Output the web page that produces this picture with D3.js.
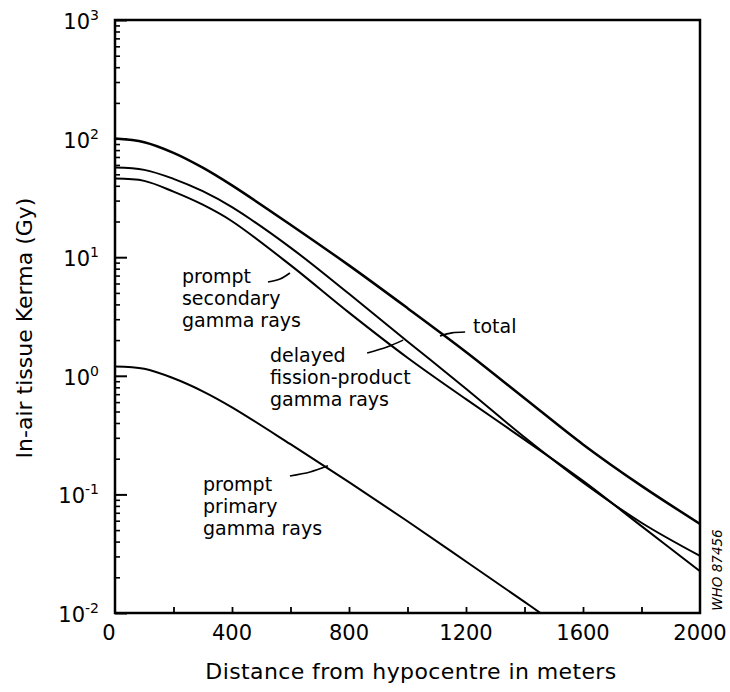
<!DOCTYPE html>
<html>
<head>
<meta charset="utf-8">
<script src="https://cdn.jsdelivr.net/npm/d3@7"></script>
<style>
    body { margin: 0; background: #fff; }
    svg { font-family: "DejaVu Sans", sans-serif; }
</style>
</head>
<body>
<div id="chart"></div>
<script>
// distances (m) and kerma values (Gy)
const distance = [0, 100, 200, 300, 400, 600, 800, 1000, 1200, 1400, 1600, 1800, 2000];
const total = [100, 93.3, 75.9, 56.9, 40.3, 18.8, 8.53, 3.72, 1.59, 0.647, 0.264, 0.118, 0.0564];
const delayedFission = [57, 54.5, 45.8, 36, 26.4, 12.05, 4.91, 1.95, 0.778, 0.303, 0.126, 0.0577, 0.0303];
const promptSecondary = [46, 44, 35.7, 27.7, 20.1, 8.57, 3.41, 1.42, 0.635, 0.29, 0.13, 0.054, 0.0225];

const primaryDistance = [0, 100, 200, 300, 400, 600, 800, 1000, 1200, 1400, 1470];
const promptPrimary = [1.2, 1.146, 0.953, 0.74, 0.542, 0.265, 0.127, 0.0594, 0.0272, 0.0124, 0.0094];

const xTickLabels = [0, 400, 800, 1200, 1600, 2000];
const xMinorTicks = [200, 400, 600, 800, 1000, 1200, 1400, 1600, 1800];
const yExponents = [-2, -1, 0, 1, 2, 3];

// curve labels, placed in data units (distance, kerma)
const annotations = [
    {lines: ["prompt", "secondary", "gamma rays"], d: 229, v: 6.06,
     leader: [[523, 6.18], [564, 6.55], [598, 7.36]]},
    {lines: ["delayed", "fission-product", "gamma rays"], d: 530, v: 1.31,
     leader: [[862, 1.556], [930, 1.75], [985, 2.0]]},
    {lines: ["total"], d: 1224, v: 2.30,
     leader: [[1197, 2.34], [1152, 2.30], [1111, 2.17]]},
    {lines: ["prompt", "primary", "gamma rays"], d: 301, v: 0.107,
     leader: [[598, 0.143], [667, 0.1545], [728, 0.174]]}
];

const width = 730;
const height = 692;
const margin = {top: 20, right: 30, bottom: 79, left: 115};

const x = d3
    .scaleLinear()
    .domain([0, 2000])
    .range([margin.left, width - margin.right]);

const y = d3
    .scaleLog()
    .domain([1e-2, 1e3])
    .range([height - margin.bottom, margin.top]);

const svg = d3
    .select("#chart")
    .append("svg")
    .attr("width", width)
    .attr("height", height);

svg.append("defs")
    .append("clipPath")
    .attr("id", "plot-clip")
    .append("rect")
    .attr("x", x(0))
    .attr("y", y(1e3))
    .attr("width", x(2000) - x(0))
    .attr("height", y(1e-2) - y(1e3));

// y ticks, pointing inward
const yMinor = [];
for (let k = -2; k < 3; k++)
    for (let m = 2; m < 10; m++)
        yMinor.push(m * Math.pow(10, k));

svg.append("g")
    .attr("transform", "translate(" + x(0) + ",0)")
    .call(d3.axisLeft(y).tickValues(yMinor).tickSize(-5).tickFormat(""))
    .call(g => g.select(".domain").remove())
    .selectAll("line")
    .attr("stroke-width", 1.6);

svg.append("g")
    .attr("transform", "translate(" + x(0) + ",0)")
    .call(d3.axisLeft(y).tickValues(yExponents.map(e => Math.pow(10, e))).tickSize(-12).tickFormat(""))
    .call(g => g.select(".domain").remove())
    .selectAll("line")
    .attr("stroke-width", 2);

// x ticks, pointing inward
svg.append("g")
    .attr("transform", "translate(0," + y(1e-2) + ")")
    .call(d3.axisBottom(x).tickValues(xMinorTicks).tickSize(-6).tickFormat(""))
    .call(g => g.select(".domain").remove())
    .selectAll("line")
    .attr("stroke-width", 1.8);

// frame
svg.append("rect")
    .attr("x", x(0))
    .attr("y", y(1e3))
    .attr("width", x(2000) - x(0))
    .attr("height", y(1e-2) - y(1e3))
    .attr("fill", "none")
    .attr("stroke", "#000")
    .attr("stroke-width", 2.5);

// y tick labels 10^n
const yLabels = svg.append("g")
    .selectAll("text")
    .data(yExponents)
    .join("text")
    .attr("x", x(0) - 16)
    .attr("y", e => y(Math.pow(10, e)) + 9)
    .attr("text-anchor", "end")
    .attr("font-size", 21)
    .attr("fill", "#000");

yLabels.append("tspan").text("10");
yLabels.append("tspan")
    .attr("font-size", 14)
    .attr("dy", -9)
    .text(e => e < 0 ? "-" + Math.abs(e) : e);

// x tick labels
svg.append("g")
    .selectAll("text")
    .data(xTickLabels)
    .join("text")
    .attr("x", d => x(d) - (d == 0 ? 6 : 0))
    .attr("y", y(1e-2) + 27)
    .attr("text-anchor", "middle")
    .attr("font-size", 21)
    .attr("fill", "#000")
    .text(d => d);

// axis titles
svg.append("text")
    .attr("x", 411)
    .attr("y", height - 13)
    .attr("text-anchor", "middle")
    .attr("font-size", 22)
    .attr("letter-spacing", 0.4)
    .text("Distance from hypocentre in meters");

svg.append("text")
    .attr("transform", "translate(32,328) rotate(-90)")
    .attr("text-anchor", "middle")
    .attr("font-size", 22)
    .text("In-air tissue Kerma (Gy)");

// curves
const line = d3.line()
    .x(d => x(d[0]))
    .y(d => y(d[1]))
    .curve(d3.curveCatmullRom.alpha(0.5));

const series = [
    {values: total, dist: distance, w: 2.5},
    {values: delayedFission, dist: distance, w: 2},
    {values: promptSecondary, dist: distance, w: 2},
    {values: promptPrimary, dist: primaryDistance, w: 2}
];

svg.append("g")
    .attr("clip-path", "url(#plot-clip)")
    .selectAll("path")
    .data(series)
    .join("path")
    .attr("d", s => line(s.dist.map((d, i) => [d, s.values[i]])))
    .attr("fill", "none")
    .attr("stroke", "#000")
    .attr("stroke-width", s => s.w);

// curve labels with leader lines
const leader = d3.line()
    .x(d => x(d[0]))
    .y(d => y(d[1]))
    .curve(d3.curveNatural);

svg.append("g")
    .selectAll("path")
    .data(annotations)
    .join("path")
    .attr("d", a => leader(a.leader))
    .attr("fill", "none")
    .attr("stroke", "#000")
    .attr("stroke-width", 1.6);

const labelText = svg.append("g")
    .selectAll("text")
    .data(annotations)
    .join("text")
    .attr("x", a => x(a.d))
    .attr("y", a => y(a.v))
    .attr("font-size", 19)
    .attr("fill", "#000");

labelText.selectAll("tspan")
    .data(a => a.lines.map((t, i) => ({t: t, i: i, a: a})))
    .join("tspan")
    .attr("x", l => x(l.a.d))
    .attr("dy", l => l.i == 0 ? 0 : 22)
    .text(l => l.t);

// figure reference number
svg.append("text")
    .attr("transform", "translate(722,570) rotate(-90)")
    .attr("text-anchor", "middle")
    .attr("font-size", 13.5)
    .attr("font-style", "italic")
    .text("WHO 87456");
</script>
</body>
</html>
